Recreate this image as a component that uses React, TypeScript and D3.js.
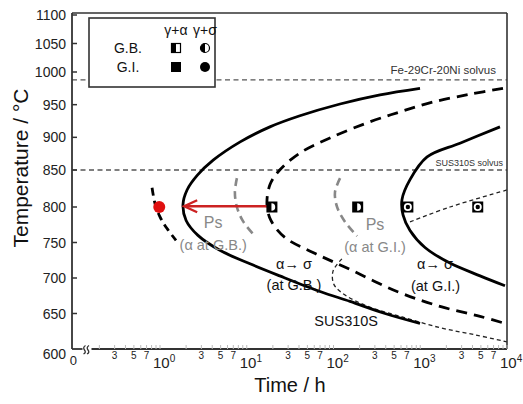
import React from "react";
import * as d3 from "d3";

const W = 523;
const H = 404;

// ---- tick data ----
const yTicks = [600, 650, 700, 750, 800, 850, 900, 950, 1000, 1050, 1100];
const xDecadeExps = [0, 1, 2, 3, 4];
const minorLabelMultipliers = [3, 5, 7];

// ---- solvus temperatures (°C) ----
const feCrNiSolvus = 988;
const sus310sSolvus = 850;

// ---- curves: [time (h), temperature (°C)] ----
const sus310sCurve: [number, number][] = [
  [994, 975], [344, 965], [119, 951], [41, 933], [18.5, 916], [8.4, 893],
  [4.1, 865], [2.7, 843], [2.05, 823], [1.84, 803], [2.0, 781], [2.74, 760],
  [4.9, 739], [10.9, 720], [24, 703], [70, 681], [155, 667], [392, 650], [994, 636],
];
const giDashedCurve: [number, number][] = [
  [8990, 975], [3750, 966], [1400, 954], [585, 939], [243, 922], [91, 899],
  [41, 876], [24, 850], [18.5, 830], [17.1, 803], [19, 781], [27.6, 757],
  [58, 736], [143, 714], [540, 681], [1690, 660], [4890, 646], [9480, 636],
];
const gbSigmaDashed: [number, number][] = [
  [0.81, 826], [0.875, 805], [1.0, 786], [1.2, 770], [1.53, 753],
];
const giSigmaSolid: [number, number][] = [
  [8300, 916], [2870, 891], [1200, 870], [762, 837], [616, 810], [633, 789],
  [762, 767], [1134, 743], [2200, 721], [4890, 703], [9480, 689],
];
const psGB: [number, number][] = [
  [7.7, 839], [7.3, 820], [7.7, 800], [9.05, 780], [12.4, 759],
];
const psGI: [number, number][] = [
  [119, 839], [104, 820], [110, 800], [136, 779], [187, 759],
];
const thinDashedUpper: [number, number][] = [
  [762, 779], [2200, 800], [10000, 823],
];
const thinDashedLower: [number, number][] = [
  [125, 727], [99, 710], [101, 691], [136, 676], [250, 660], [585, 646],
  [1690, 630], [4280, 620], [10000, 610],
];

// ---- experimental points ----
const expPoints: { t: number; T: number; kind: string }[] = [
  { t: 19.5, T: 800, kind: "sqD" },
  { t: 190, T: 800, kind: "sqD" },
  { t: 720, T: 800, kind: "sqO" },
  { t: 4600, T: 800, kind: "sqO" },
];
const redPoint = { t: 0.98, T: 800 };
const arrowFrom = { t: 17.5, T: 801 };
const arrowTo = { t: 1.9, T: 801 };

// ---- annotations (time h, temperature °C) ----
const annotations: { t: number; T: number; text: string; gray: boolean }[] = [
  { t: 4.1, T: 778, text: "Ps", gray: true },
  { t: 4.1, T: 746, text: "(α at G.B.)", gray: true },
  { t: 301, T: 776, text: "Ps", gray: true },
  { t: 301, T: 743, text: "(α at G.I.)", gray: true },
  { t: 35, T: 720, text: "α→ σ", gray: false },
  { t: 35, T: 690, text: "(at G.B.)", gray: false },
  { t: 1480, T: 720, text: "α→ σ", gray: false },
  { t: 1500, T: 689, text: "(at G.I.)", gray: false },
  { t: 140, T: 639, text: "SUS310S", gray: false },
];

const FONT = "'Liberation Sans', Arial, Helvetica, sans-serif";

export default function App() {
  const left = 72, right = 507, top = 13, bottom = 349;
  const x = d3.scaleLog().domain([0.1, 10000]).range([73.25, right]);
  const y = d3
    .scaleLinear()
    .domain([600, 800, 850, 1000, 1100])
    .range([bottom, 207, 170, 72, 15]);

  const line = d3
    .line<[number, number]>()
    .x((d) => x(d[0]))
    .y((d) => y(d[1]))
    .curve(d3.curveCatmullRom.alpha(0.5));

  const minorTicks: number[] = [];
  for (let e = -1; e <= 3; e++) {
    for (let k = 2; k <= 10; k++) minorTicks.push(k * Math.pow(10, e));
  }

  const breakX = 86.5;
  const sq = 11;
  const renderMarker = (p: { t: number; T: number; kind: string }, i: number) => {
    const cx = x(p.t), cy = y(p.T);
    const h = sq / 2;
    if (p.kind === "sqD") {
      return (
        <g key={i}>
          <rect x={cx - h} y={cy - h} width={sq} height={sq} fill="#000" />
          <path
            d={`M${cx - 0.5},${cy - 3.8} A3.8,3.8 0 0 1 ${cx - 0.5},${cy + 3.8} Z`}
            fill="#fff"
          />
        </g>
      );
    }
    return (
      <g key={i}>
        <rect x={cx - h} y={cy - h} width={sq} height={sq} fill="#000" />
        <circle cx={cx} cy={cy} r={4} fill="#fff" />
        <circle cx={cx} cy={cy} r={2.2} fill="#000" />
      </g>
    );
  };

  const axY = bottom;
  const legend = { x0: 89, y0: 18, x1: 215, y1: 87 };
  const col1 = 176, col2 = 205, row1 = 48, row2 = 67;

  return (
    <svg
      width={W}
      height={H}
      style={{ position: "absolute", left: 0, top: 0, background: "#fff" }}
      fontFamily={FONT}
    >
      <rect x={0} y={0} width={W} height={H} fill="#fff" />

      {/* solvus lines */}
      <line x1={left} x2={right} y1={y(feCrNiSolvus)} y2={y(feCrNiSolvus)}
        stroke="#555" strokeWidth={1.4} strokeDasharray="5 3.5" />
      <line x1={left} x2={right} y1={y(sus310sSolvus)} y2={y(sus310sSolvus)}
        stroke="#555" strokeWidth={1.4} strokeDasharray="5 3.5" />
      <text x={496} y={y(feCrNiSolvus) - 6} textAnchor="end" fontSize={11.5} fill="#333">
        Fe-29Cr-20Ni solvus
      </text>
      <text x={503} y={y(sus310sSolvus) - 4} textAnchor="end" fontSize={9} fill="#333">
        SUS310S solvus
      </text>

      {/* curves */}
      <path d={line(thinDashedUpper) || ""} fill="none" stroke="#222" strokeWidth={1.3} strokeDasharray="4 3" />
      <path d={line(thinDashedLower) || ""} fill="none" stroke="#222" strokeWidth={1.3} strokeDasharray="4 3" />
      <path d={line(psGB) || ""} fill="none" stroke="#888" strokeWidth={2.6} strokeDasharray="8 5" />
      <path d={line(psGI) || ""} fill="none" stroke="#888" strokeWidth={2.6} strokeDasharray="8 5" />
      <path d={line(sus310sCurve) || ""} fill="none" stroke="#000" strokeWidth={2.8} />
      <path d={line(giSigmaSolid) || ""} fill="none" stroke="#000" strokeWidth={2.8} />
      <path d={line(giDashedCurve) || ""} fill="none" stroke="#000" strokeWidth={2.8} strokeDasharray="11 7" />
      <path d={line(gbSigmaDashed) || ""} fill="none" stroke="#000" strokeWidth={2.8} strokeDasharray="8 5" />

      {/* annotations */}
      {annotations.map((a, i) => (
        <text key={i} x={x(a.t)} y={y(a.T)} textAnchor="middle" dominantBaseline="central"
          fontSize={a.text === "Ps" ? 16 : 14.5} fill={a.gray ? "#888" : "#111"}>
          {a.text}
        </text>
      ))}

      {/* red arrow and point */}
      <line x1={x(arrowFrom.t)} x2={x(arrowTo.t) + 1} y1={y(arrowFrom.T)} y2={y(arrowTo.T)}
        stroke="#cc2222" strokeWidth={2.4} />
      <path
        d={`M${x(arrowTo.t) + 13},${y(arrowTo.T) - 6} L${x(arrowTo.t)},${y(arrowTo.T)} L${x(arrowTo.t) + 13},${y(arrowTo.T) + 6}`}
        fill="none" stroke="#cc2222" strokeWidth={2.4} />
      <circle cx={x(redPoint.t)} cy={y(redPoint.T)} r={6} fill="#e01010" />

      {/* experimental markers */}
      {expPoints.map(renderMarker)}

      {/* frame */}
      <line x1={left} x2={right} y1={top} y2={top} stroke="#333" strokeWidth={1.6} />
      <line x1={right} x2={right} y1={top} y2={axY} stroke="#333" strokeWidth={1.6} />
      <line x1={left} x2={left} y1={top} y2={axY} stroke="#333" strokeWidth={1.8} />
      <line x1={left} x2={breakX - 4} y1={axY} y2={axY} stroke="#333" strokeWidth={1.8} />
      <line x1={breakX + 5} x2={right} y1={axY} y2={axY} stroke="#333" strokeWidth={1.8} />
      {[0, 3.5].map((o, i) => (
        <path key={i}
          d={`M${breakX - 3 + o},${axY + 5} q3,-1.5 1,-4 q-2,-2.5 1,-4.5`}
          fill="none" stroke="#333" strokeWidth={1.3} />
      ))}

      {/* y ticks */}
      {yTicks.map((v) => (
        <g key={v}>
          {v !== 600 && <line x1={left} x2={left + 5} y1={y(v)} y2={y(v)} stroke="#333" strokeWidth={1.5} />}
          <text x={66} y={v === 600 ? y(v) + 5 : y(v)} textAnchor="end" dominantBaseline="central"
            fontSize={14} fill="#222">
            {v}
          </text>
        </g>
      ))}

      {/* x minor ticks */}
      {minorTicks.filter((t) => x(t) > breakX + 8).map((t, i) => (
        <line key={i} x1={x(t)} x2={x(t)} y1={axY} y2={axY - 4} stroke="#bbb" strokeWidth={1} />
      ))}

      {/* x labels */}
      <text x={x(0.1)} y={360} textAnchor="middle" dominantBaseline="central" fontSize={13} fill="#222">0</text>
      {xDecadeExps.map((e) => (
        <g key={e}>
          <text x={x(Math.pow(10, e)) - 7} y={362} dominantBaseline="central" fontSize={15} fill="#222">
            10
            <tspan dy={-4} fontSize={10}>{e}</tspan>
          </text>
          {minorLabelMultipliers.map((m) => (
            <text key={m} x={x(m * Math.pow(10, e - 1))} y={355} textAnchor="middle"
              dominantBaseline="central" fontSize={10} fill="#222">
              {m}
            </text>
          ))}
        </g>
      ))}

      {/* axis titles */}
      <text x={290} y={385} textAnchor="middle" dominantBaseline="central" fontSize={20} fill="#111">
        Time / h
      </text>
      <text transform={`translate(20,168) rotate(-90)`} textAnchor="middle" dominantBaseline="central"
        fontSize={21} fill="#111">
        Temperature / °C
      </text>

      {/* legend */}
      <rect x={legend.x0} y={legend.y0} width={legend.x1 - legend.x0} height={legend.y1 - legend.y0}
        fill="#fff" stroke="#333" strokeWidth={1.6} />
      <text x={col1} y={30} textAnchor="middle" dominantBaseline="central" fontSize={14} fill="#111">γ+α</text>
      <text x={col2} y={30} textAnchor="middle" dominantBaseline="central" fontSize={14} fill="#111">γ+σ</text>
      <text x={128} y={row1} textAnchor="middle" dominantBaseline="central" fontSize={14} fill="#111">G.B.</text>
      <text x={128} y={row2} textAnchor="middle" dominantBaseline="central" fontSize={14} fill="#111">G.I.</text>
      <rect x={col1 - 4.5} y={row1 - 4.5} width={9} height={9} fill="#fff" stroke="#000" strokeWidth={1.2} />
      <rect x={col1 - 4.5} y={row1 - 4.5} width={4.5} height={9} fill="#000" />
      <circle cx={col2} cy={row1} r={4.5} fill="#fff" stroke="#000" strokeWidth={1.2} />
      <path d={`M${col2},${row1 - 4.5} A4.5,4.5 0 0 0 ${col2},${row1 + 4.5} Z`} fill="#000" />
      <rect x={col1 - 5} y={row2 - 5} width={10} height={10} fill="#000" />
      <circle cx={col2} cy={row2} r={5} fill="#000" />
    </svg>
  );
}
